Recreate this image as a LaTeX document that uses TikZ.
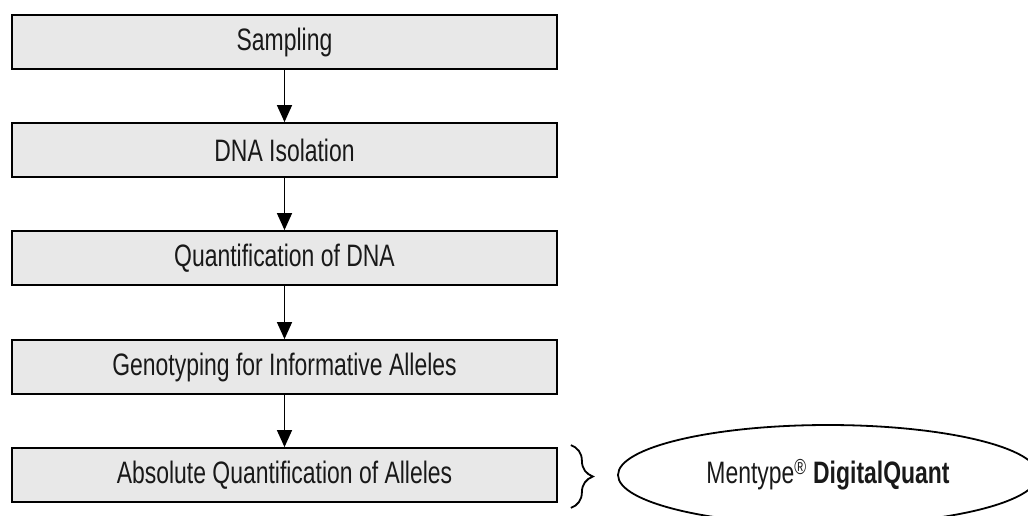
\documentclass[tikz,border=0pt]{standalone}
\usepackage{fontspec}
\setmainfont{Liberation Sans}[FakeStretch=0.74]
\usetikzlibrary{arrows.meta,decorations.pathreplacing,shapes.geometric}
\definecolor{boxfill}{HTML}{E8E8E8}
\tikzset{
  stepbox/.style={draw=black, line width=1.8pt, fill=boxfill, minimum width=545pt, minimum height=54pt, inner sep=0pt,
    font=\fontsize{31}{37}\selectfont, text=black!90},
  flow/.style={line width=1.4pt, -{Triangle[width=15pt,length=17pt]}},
  oval/.style={draw=black, line width=1.8pt, ellipse, minimum width=420pt, minimum height=100pt, inner sep=0pt,
    font=\fontsize{31}{37}\selectfont, text=black!90},
  bracestyle/.style={line width=1.8pt, decorate, decoration={brace, amplitude=22pt}}
}
\begin{document}
\begin{tikzpicture}[x=1pt,y=-1pt]
\useasboundingbox (0,0) rectangle (1028,515);
\clip (0,0) rectangle (1028,515);
\node[stepbox] (b1) at (284.5,42) {Sampling};
\node[stepbox] (b2) at (284.5,150) {DNA Isolation};
\node[stepbox] (b3) at (284.5,258) {Quantification of DNA};
\node[stepbox] (b4) at (284.5,367) {Genotyping for Informative Alleles};
\node[stepbox] (b5) at (284.5,475) {Absolute Quantification of Alleles};
\draw[flow] (b1) -- (b2);
\draw[flow] (b2) -- (b3);
\draw[flow] (b3) -- (b4);
\draw[flow] (b4) -- (b5);
\coordinate (bt) at ([xshift=13pt,yshift=2pt]b5.north east);
\coordinate (bb) at ([xshift=13pt,yshift=-5pt]b5.south east);
\draw[bracestyle] (bt) -- (bb);
\node[oval] (dq) at (828,475) {Mentype\textsuperscript{\textregistered} \textbf{DigitalQuant}};
\end{tikzpicture}
\end{document}
